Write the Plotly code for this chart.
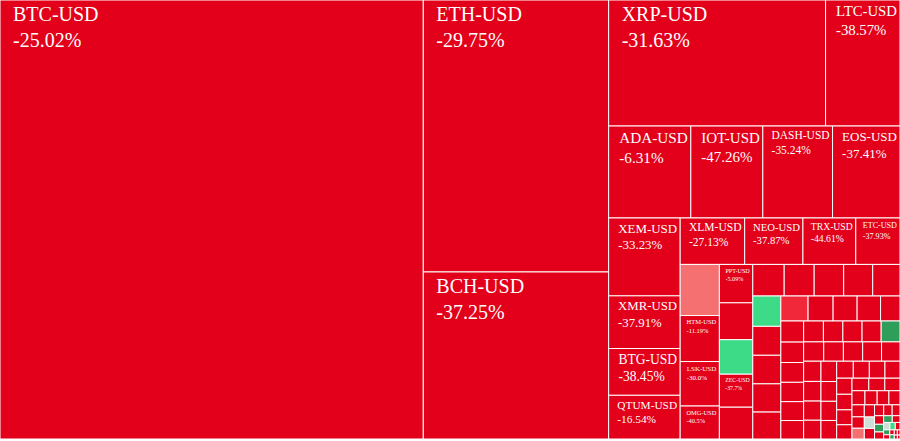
import plotly.graph_objects as go

# market cap (in $M), % change shown, 24h change for colour
coins = ["BTC", "ETH", "BCH", "XRP", "LTC", "ADA", "IOT", "DASH", "EOS",
         "XEM", "XMR", "BTG", "QTUM", "XLM", "NEO", "TRX", "ETC",
         "VEN", "HTM", "LSK", "OMG", "PPT", "ICX", "USDT", "ZEC", "BNB",
         "STEEM", "XVG", "SC", "BCN", "STRAT",
         "WAVES", "DOGE", "BTS", "REP", "DCR",
         "SNT", "ZRX", "KMD", "ARDR", "ARK",
         "DGB", "GNT", "VERI", "XZC", "BAT", "SALT", "DRGN", "QASH",
         "KNC", "ETN", "PIVX", "FCT", "GAS", "WTC", "MONA", "HSR",
         "ZCL", "AE", "ELF", "ETHOS", "GBYTE", "BTM", "SYS", "NXS",
         "DGD", "POWR", "NAS", "GXS", "RDD", "FUN", "AION", "KIN",
         "NXT", "MAID", "REQ", "LINK", "PAY", "BNT", "ENG", "WAX",
         "ICN", "SUB", "DENT", "SMART", "XP", "STORM", "BLOCK", "CND",
         "NEBL", "GNO", "QSP", "EMC", "VTC", "GAME", "SAN", "XDN",
         "BTCD", "RDN", "MED", "POE", "LRC", "CVC", "AST", "RCN"]

market_cap = [185480, 50320, 30900, 27290, 9360, 7540, 6610, 6400, 6190,
              5560, 3760, 3340, 3120, 2990, 2700, 2450, 2050,
              2000, 1800, 1740, 1290, 1280, 1230, 1150, 1100, 1060,
              990, 945, 930, 915, 860,
              850, 810, 800, 790, 754,
              680, 625, 600, 585, 485,
              480, 465, 450, 440, 430, 420, 412, 405,
              400, 398, 392, 388, 380, 372, 365, 356,
              350, 340, 332, 325, 318, 310, 300, 290,
              282, 272, 265, 255, 246, 238, 228, 218,
              210, 200, 190, 182, 172, 165, 156, 148,
              140, 132, 124, 116, 108, 100, 92, 85,
              78, 70, 64, 58, 52, 46, 40, 35,
              30, 26, 22, 19, 16, 14, 12, 10]

pct_change = ["-25.02%", "-29.75%", "-37.25%", "-31.63%", "-38.57%", "-6.31%", "-47.26%", "-35.24%", "-37.41%",
              "-33.23%", "-37.91%", "-38.45%", "-16.54%", "-27.13%", "-37.87%", "-44.61%", "-37.93%",
              None, "-11.19%", "-30.0%", "-40.5%", "-5.09%", None, None, "-37.7%", None]
pct_change += [None] * (len(coins) - len(pct_change))

day_change = [-7] * len(coins)
for i, v in {17: -1.8, 23: 6, 31: 6, 36: -3.6, 51: 1.2, 82: -1.8, 84: 0, 90: 1.2,
             92: 1.2, 94: 0, 95: 6, 97: 1.2, 100: 1.2}.items():
    day_change[i] = v

labels = [c + "-USD" for c in coins]
pad = "&nbsp;&nbsp;"
texts = [pad + l + "<br>" + pad + p if p else "" for l, p in zip(labels, pct_change)]

fig = go.Figure(go.Treemap(
    labels=labels,
    parents=[""] * len(labels),
    values=market_cap,
    text=texts,
    textinfo="text",
    textposition="top left",
    textfont=dict(family="Liberation Serif", size=20, color="white"),
    marker=dict(colors=day_change,
                colorscale=[[0.0, "#E3001A"], [0.1, "#E3001A"], [0.2, "#F0283A"],
                            [0.35, "#F57070"], [0.5, "#CFDDD7"], [0.6, "#2E9E5A"],
                            [1.0, "#3DDB87"]],
                cmin=-6, cmax=6,
                pad=dict(t=0, l=0, r=0, b=0),
                line=dict(color="white", width=1)),
    tiling=dict(squarifyratio=1, pad=0),
    root=dict(color="white"),
    pathbar=dict(visible=False),
    hoverinfo="skip",
    sort=True,
))

fig.update_layout(
    width=900, height=441,
    margin=dict(l=0, r=0, t=0, b=2),
    paper_bgcolor="white",
    font=dict(family="Liberation Serif"),
    hovermode=False,
)

fig.write_html("out.html", config={"displayModeBar": False},
               post_script="document.body.style.margin = '0';")
